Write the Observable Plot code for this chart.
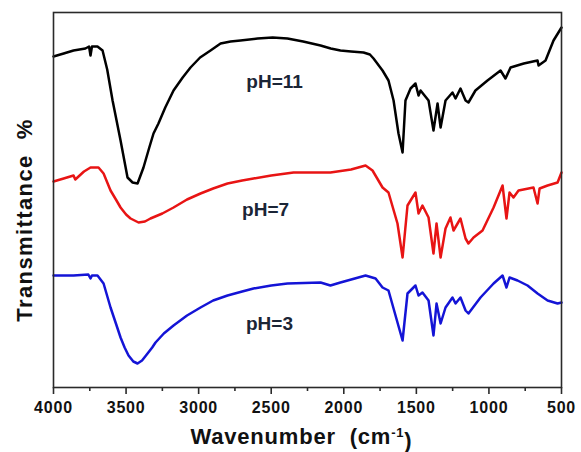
<!DOCTYPE html>
<html>
<head>
<meta charset="utf-8">
<script src="https://cdn.jsdelivr.net/npm/d3@7"></script>
<script src="https://cdn.jsdelivr.net/npm/@observablehq/plot@0.6"></script>
<style>
  html, body { margin: 0; padding: 0; background: #fff; }
  #chart svg text { white-space: pre; }
</style>
</head>
<body>
<div id="chart"></div>
<script>
// Wavenumber (cm-1) and relative transmittance (arbitrary units)
const wn11 = [4000,3930,3862,3780,3755,3745,3735,3697,3662,3630,3593,3538,3490,3455,3421,3380,3340,3311,3277,3230,3173,3110,3056,2990,2918,2849,2780,2712,2594,2490,2388,2280,2160,2090,2023,1950,1864,1820,1795,1733,1692,1657,1623,1595,1575,1540,1506,1485,1471,1416,1382,1354,1333,1299,1251,1230,1196,1161,1141,1093,1010,920,886,851,760,665,658,610,555,500];
const t11  = [331,334,337,339,341,332,341,341,337,318,287,247,210,205,204,220,240,254,264,280,297,310,320,330,337,344,346,347,349,350,349,346,342,339,337,336,335,333,329,317,307,287,254,235,287,299,304,292,297,287,257,284,260,287,295,289,299,287,285,297,307,317,309,320,324,327,322,327,347,360];

const wn7 = [4000,3930,3862,3850,3790,3745,3690,3655,3607,3570,3538,3500,3469,3414,3370,3332,3250,3173,3080,2987,2900,2801,2700,2622,2500,2346,2160,2092,1950,1850,1802,1733,1692,1630,1595,1561,1506,1485,1458,1416,1382,1361,1333,1299,1265,1244,1196,1161,1141,1106,1044,968,906,879,858,831,796,693,665,651,596,527,500];
const t7  = [206,209,212,208,216,220,220,214,197,188,180,173,169,165,166,169,174,180,188,194,199,204,207,209,212,215,215,215,218,222,217,200,195,164,130,182,195,174,182,170,134,164,130,159,170,157,169,149,144,150,157,180,202,169,195,190,197,200,184,199,202,205,215];

const wn3 = [4000,3862,3760,3745,3735,3697,3655,3607,3570,3538,3510,3483,3450,3421,3390,3352,3320,3297,3240,3173,3080,2987,2900,2801,2700,2622,2500,2388,2160,2092,2023,1850,1781,1733,1692,1630,1595,1561,1506,1485,1458,1416,1382,1361,1333,1299,1251,1230,1196,1161,1141,1058,968,906,879,858,803,734,665,596,527,500];
const t3  = [112,112,113,109,112,112,104,80,64,50,40,32,26,24,27,34,40,45,54,62,72,80,87,92,96,99,102,104,105,102,105,112,109,100,97,65,47,94,102,92,95,87,52,84,64,80,90,84,90,77,74,90,104,112,100,110,107,102,94,87,84,85];

const seriesNames = ["pH=11", "pH=7", "pH=3"];
const seriesColors = ["#000000", "#e81414", "#1414d6"];
// label anchor positions (wavenumber, transmittance units)
const labelWn = [2477, 2539, 2512];
const labelT  = [306, 177.5, 63.5];

const majorTicks = [4000,3500,3000,2500,2000,1500,1000,500];
const minorTicks = [3750,3250,2750,2250,1750,1250,750];

const rows = [];
[[wn11,t11],[wn7,t7],[wn3,t3]].forEach(([w,t],i) => {
  w.forEach((x,j) => rows.push({wn:x, t:t[j], s:seriesNames[i]}));
});
const labels = seriesNames.map((s,i) => ({s, wn:labelWn[i], t:labelT[i]}));

const font = "Liberation Sans, Arial, Helvetica, sans-serif";

const chart = Plot.plot({
  width: 581,
  height: 452,
  marginLeft: 53,
  marginRight: 20,
  marginTop: 12,
  marginBottom: 65,
  style: {fontFamily: font, fontWeight: "bold", color: "#111", background: "#fff"},
  x: {domain: [4000, 500]},
  y: {domain: [0, 375]},
  color: {domain: seriesNames, range: seriesColors},
  marks: [
    Plot.line(rows, {x: "wn", y: "t", z: "s", stroke: "s", strokeWidth: 2.5, curve: "linear", strokeLinejoin: "round"}),
    Plot.frame({stroke: "#2a2a2a", strokeWidth: 1.6}),
    Plot.axisX({ticks: majorTicks, tickSize: 7, tickPadding: 7, tickFormat: d => String(d), label: null, fontSize: 16, fontWeight: "bold", stroke: "#2a2a2a", strokeWidth: 1.6}),
    Plot.axisX({ticks: minorTicks, tickSize: 4, tickFormat: () => "", label: null, stroke: "#2a2a2a", strokeWidth: 1.6}),
    Plot.axisY({ticks: [], label: null}),
    Plot.text(labels, {x: "wn", y: "t", text: "s", fill: "#1b2536", fontSize: 19, fontWeight: "bold", lineAnchor: "middle", textAnchor: "middle"}),
    Plot.text(["Wavenumber  (cm-1)"], {frameAnchor: "bottom", dx: -6, dy: 56, lineAnchor: "bottom", textAnchor: "middle", fontSize: 22, fontWeight: "bold", fill: "#111"}),
    Plot.text(["Transmittance  %"], {frameAnchor: "left", dx: -29, dy: 20, rotate: -90, lineAnchor: "middle", textAnchor: "middle", fontSize: 22, fontWeight: "bold", fill: "#111"})
  ]
});

document.getElementById("chart").appendChild(chart);

// tick label letter spacing and superscript in axis title
d3.select(chart).selectAll("text").each(function() {
  const el = d3.select(this);
  const txt = this.textContent;
  if (/^\d+$/.test(txt)) el.style("letter-spacing", "0.8px");
  if (txt === "Transmittance  %") el.style("letter-spacing", "1.4px");
  if (txt === "Wavenumber  (cm-1)") {
    el.text(null).style("letter-spacing", "0.8px");
    el.append("tspan").text("Wavenumber  (cm");
    el.append("tspan").attr("dy", "-0.5em").attr("font-size", "13px").text("-1");
    el.append("tspan").attr("dy", "0.5em").text(")");
  }
});
</script>
</body>
</html>
